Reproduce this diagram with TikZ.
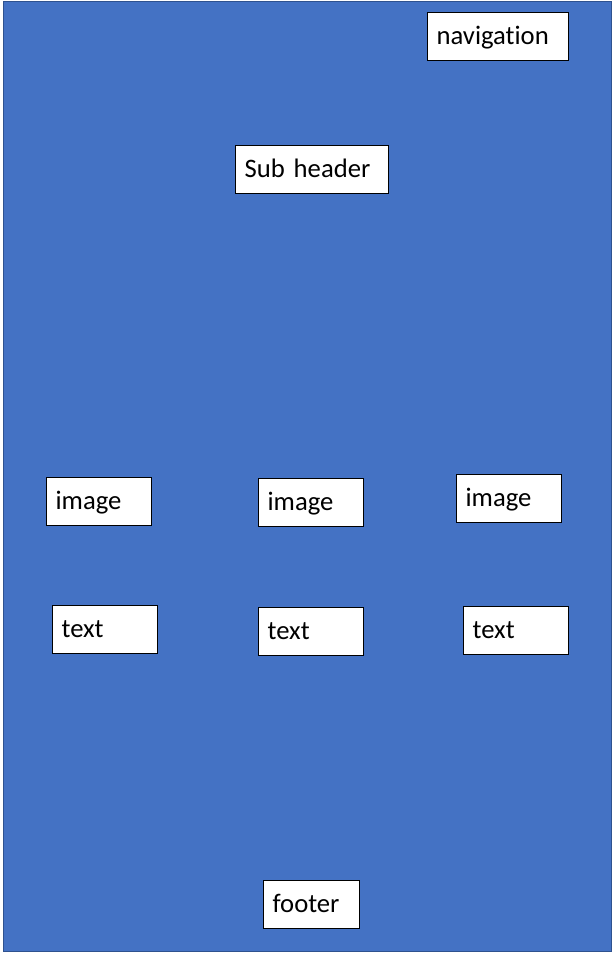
\documentclass[tikz,border=0pt]{standalone}
\usepackage{fontspec}
\setmainfont[Ligatures=NoCommon]{Carlito}
\usetikzlibrary{positioning}
\definecolor{pagefill}{HTML}{4472C4}
\definecolor{pageline}{HTML}{2F528F}

\begin{document}
\begin{tikzpicture}[x=0.75pt,y=-0.75pt,
    pane/.style={draw,fill=white,anchor=north west,minimum height=36pt,
      inner xsep=7pt,inner ysep=0pt,align=left,text width=#1,
      text height=16pt,text depth=4pt,font=\fontsize{20}{24}\selectfont}]
    \useasboundingbox (0,0) rectangle (616,955);
    \draw[pageline,fill=pagefill] (3,1) rectangle (611,951);

    \node[pane=91.75pt]  (nav)    at (427,12)  {navigation};
    \node[pane=100.75pt] (sub)    at (235,145) {Sub header};
    \node[pane=64.75pt]  (imgA)   at (46,477)  {image};
    \node[pane=64.75pt]  (imgB)   at (258,478) {image};
    \node[pane=64.75pt]  (imgC)   at (456,474) {image};
    \node[pane=64.75pt]  (txtA)   at (52,605)  {text};
    \node[pane=64.75pt]  (txtB)   at (258,607) {text};
    \node[pane=64.75pt]  (txtC)   at (463,606) {text};
    \node[pane=58pt]     (footer) at (263,880) {footer};
  \end{tikzpicture}
\end{document}
